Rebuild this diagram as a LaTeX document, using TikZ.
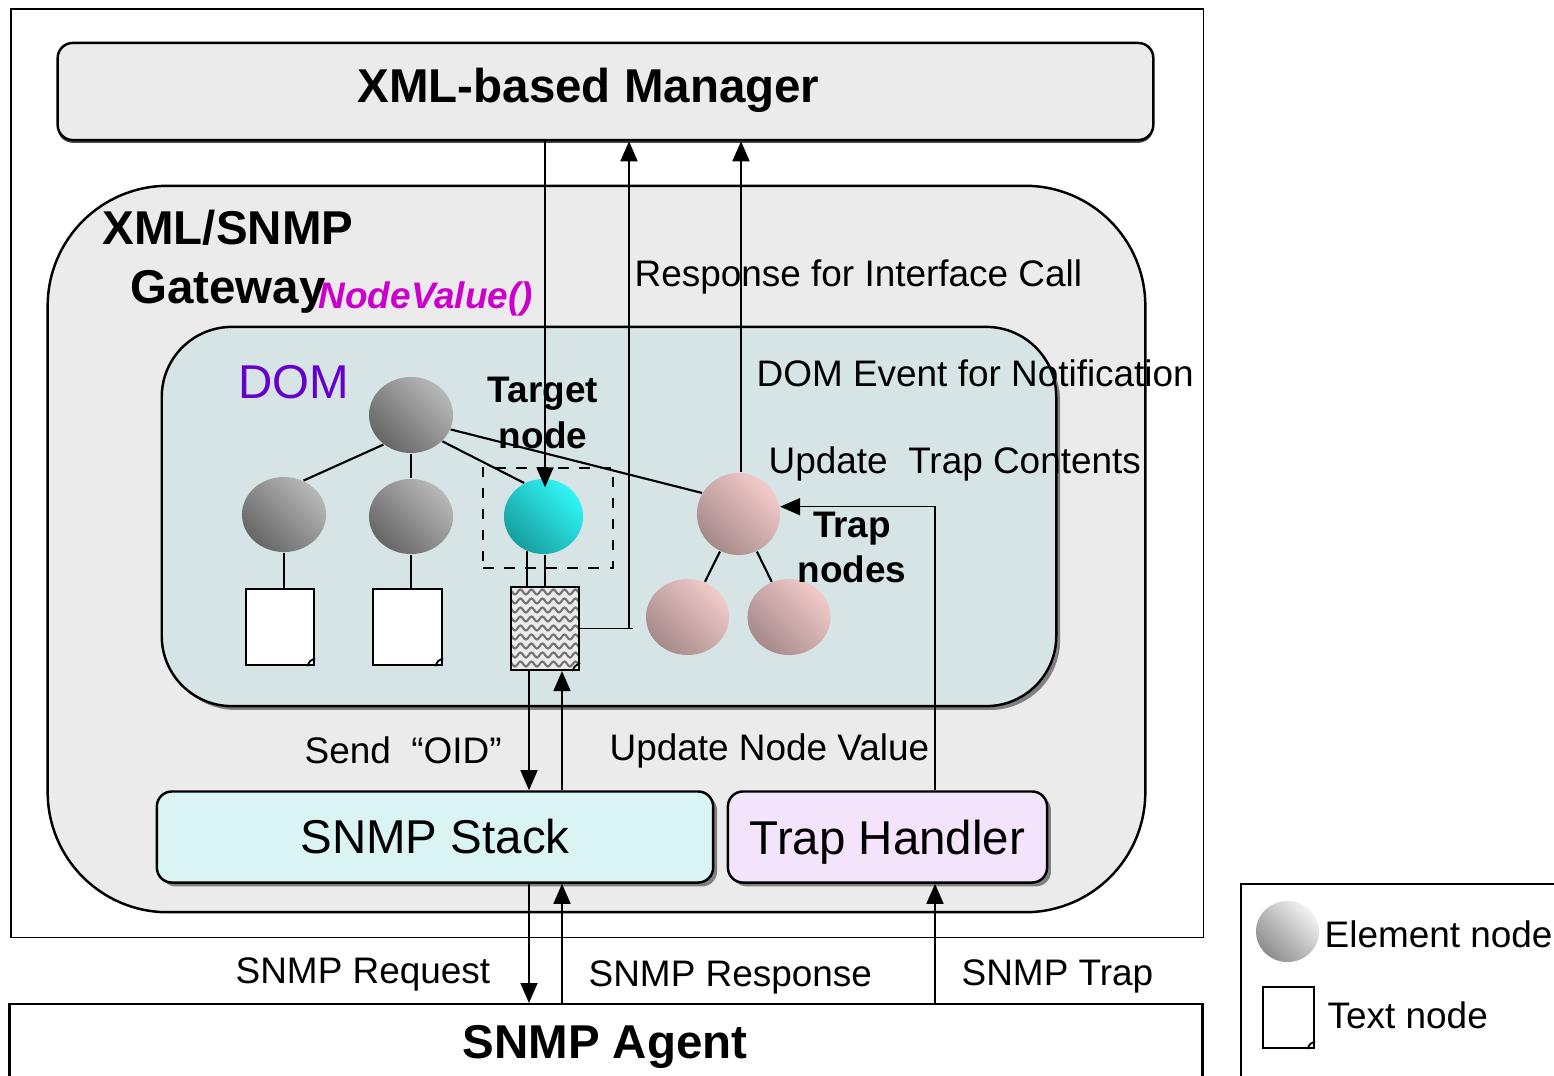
\documentclass[tikz,border=0pt]{standalone}
\usepackage{fontspec}
\setmainfont{Liberation Sans}
\usetikzlibrary{arrows.meta,calc,shapes.geometric,shapes.misc,shadows,decorations.pathmorphing}
\definecolor{panelgray}{RGB}{235,235,235}
\definecolor{domfill}{RGB}{214,228,229}
\definecolor{stackfill}{RGB}{218,244,244}
\definecolor{trapfill}{RGB}{243,228,252}
\definecolor{dompurple}{RGB}{102,0,204}
\definecolor{callmagenta}{RGB}{204,0,204}
\definecolor{cyanlight}{RGB}{48,246,246}
\definecolor{cyandark}{RGB}{24,158,158}
\definecolor{pinklight}{RGB}{243,202,202}
\definecolor{pinkdark}{RGB}{165,138,138}
\newcommand{\bigtext}{\fontsize{13.5pt}{16.5pt}\selectfont}
\newcommand{\smalltext}{\fontsize{10.5pt}{12.8pt}\selectfont}

\begin{document}
\begin{tikzpicture}[x=0.01cm, y=-0.01cm, >={Triangle[length=0.2cm,width=0.17cm]},
    box/.style={rectangle,draw,line width=0.7pt,rounded corners=0.15cm,inner sep=0pt},
    shadowed/.style={drop shadow={shadow xshift=1.1pt,shadow yshift=-1.1pt,fill=black!50,opacity=1}},
    elem/.style 2 args={ellipse,inner sep=0pt,top color=#1,bottom color=#2,shading angle=-45},
    textnode/.style={chamfered rectangle,chamfered rectangle corners=south east,chamfered rectangle sep=0.08cm,draw,line width=0.6pt,fill=white,inner sep=0pt},
    lbl/.style={inner sep=0pt,anchor=base west,font=\smalltext},
    link/.style={line width=0.6pt},
    flow/.style={line width=0.45pt}]
    \useasboundingbox (0,0) rectangle (1554,1075);

    % Frames and boxes
    \node[draw,line width=0.5pt,anchor=north west,minimum width=11.92cm,minimum height=9.28cm,inner sep=0pt] (frame) at (10,8) {};
    \node[box,fill=panelgray,minimum width=10.95cm,minimum height=0.97cm,drop shadow={shadow xshift=0pt,shadow yshift=-0.8pt,fill=black!70,opacity=1}] (manager) at (605.5,91.5) {};
    \node[anchor=base,inner sep=0pt,font=\bigtext\bfseries] (managertitle) at (588.5,102) {XML-based Manager};
    \node[box,rounded corners=1.2cm,fill=panelgray,minimum width=10.97cm,minimum height=7.26cm] (gateway) at (596.5,549) {};
    \node[anchor=base,align=center,inner sep=0pt,font=\bigtext\bfseries] (gwtitle) at (228,303) {XML/SNMP\\Gateway};
    \node[box,rounded corners=0.7cm,fill=domfill,shadowed,minimum width=8.94cm,minimum height=3.79cm] (dom) at (609,516.5) {};
    \node[lbl,font=\bigtext,text=dompurple] (domtitle) at (238,398) {DOM};
    \node[box,fill=stackfill,shadowed,minimum width=5.56cm,minimum height=0.91cm,font=\bigtext] (stack) at (435,837) {SNMP Stack};
    \node[box,fill=trapfill,shadowed,minimum width=3.19cm,minimum height=0.91cm,font=\bigtext,text depth=0pt] (traphandler) at (887.5,837) {Trap Handler};
    \node[draw,line width=0.7pt,anchor=north,minimum width=11.92cm,minimum height=1.2cm,inner sep=0pt,fill=white] (agent) at (606,1003) {};
    \node[anchor=base,inner sep=0pt,font=\bigtext\bfseries] (agenttitle) at (605,1058) {SNMP Agent};

    % DOM tree
    \node[draw,dashed,line width=0.6pt,minimum width=1.3cm,minimum height=1.0cm,inner sep=0pt] (targetbox) at (548,518) {};
    \node[elem={black!28}{black!60},minimum width=0.84cm,minimum height=0.76cm] (root) at (411,415) {};
    \node[elem={black!28}{black!60},minimum width=0.84cm,minimum height=0.75cm] (c1) at (284,514.5) {};
    \node[elem={black!28}{black!60},minimum width=0.84cm,minimum height=0.75cm] (c2) at (411,516.5) {};
    \node[elem={cyanlight}{cyandark},minimum width=0.79cm,minimum height=0.75cm] (cyan) at (543.5,516.5) {};
    \node[elem={pinklight}{pinkdark},minimum width=0.83cm,minimum height=0.82cm] (trap1) at (738.5,514) {};
    \node[elem={pinklight}{pinkdark},minimum width=0.83cm,minimum height=0.76cm] (trap2) at (687.5,617) {};
    \node[elem={pinklight}{pinkdark},minimum width=0.83cm,minimum height=0.76cm] (trap3) at (789,617) {};
    \node[textnode,minimum width=0.68cm,minimum height=0.76cm] (t1) at (280,627) {};
    \node[textnode,minimum width=0.69cm,minimum height=0.76cm] (t2) at (407.5,627) {};
    \node[textnode,fill=black!8,minimum width=0.68cm,minimum height=0.83cm,
        path picture={\foreach \k in {0,...,8}
            \draw[black!55,line width=0.6pt,decorate,decoration={snake,amplitude=0.025cm,segment length=0.11cm}]
            ($(path picture bounding box.north west)+(-0.05cm,{-0.05cm-0.09cm*\k})$) -- ++(0.9cm,0);}] (t3) at (545,628.5) {};
    \foreach \t in {t1,t2,t3}
        \draw[line width=0.5pt] ($(\t.south -| \t.east)+(-8,0)$) -- ($(\t.south -| \t.east)+(-5,-5)$) -- ($(\t.south -| \t.east)+(0,-8)$);

    \draw[link] (root.227) -- (c1.60);
    \draw[link] (root.south) -- (c2.north);
    \draw[link] (root.-40) -- (cyan.120);
    \draw[link] (root.-20) -- (trap1.150);
    \draw[link] (trap1) -- (trap2);
    \draw[link] (trap1) -- (trap3);
    \draw[link] (c1.south) -- (c1.south |- t1.north);
    \draw[link] (c2.south) -- (c2.south |- t2.north);
    \draw[link] (cyan.245) -- (cyan.245 |- t3.north);
    \draw[link] (cyan.272) -- (cyan.272 |- t3.north);

    % Labels
    \node[lbl,font=\smalltext\bfseries\itshape,text=callmagenta] (callname) at (318,308) {NodeValue()};
    \node[anchor=base,align=center,inner sep=0pt,font=\smalltext\bfseries] (targetlbl) at (543,448) {Target\\node};
    \node[anchor=base,align=center,inner sep=0pt,font=\smalltext\bfseries] (traplbl) at (852,582) {Trap\\nodes};
    \node[lbl] (resplbl) at (634,286) {Response for Interface Call};
    \node[lbl] (eventlbl) at (756,386) {DOM Event for Notification};
    \node[lbl] (updtraplbl) at (768,473) {Update\ \ Trap Contents};
    \node[lbl] (oidlbl) at (304,763) {Send\ \ “OID”};
    \node[lbl] (updnodelbl) at (609,760) {Update Node Value};
    \node[lbl] (reqlbl) at (235,983) {SNMP Request};
    \node[lbl] (rsplbl) at (588,986) {SNMP Response};
    \node[lbl] (traplbl2) at (961,985) {SNMP Trap};

    % Flow arrows
    \coordinate (getx) at (545,0);
    \coordinate (respx) at (629,0);
    \coordinate (notifx) at (741,0);
    \coordinate (reqx) at (529,0);
    \coordinate (rspx) at (562,0);
    \coordinate (trx) at (935,0);
    \draw[flow,->,shorten >=-0.09cm] (manager.south -| getx) -- (cyan.north -| getx);
    \draw[flow] (t3.east) -- ($(t3.east -| respx)+(4,0)$);
    \draw[flow,->] (t3.east -| respx) -- (manager.south -| respx);
    \draw[flow,->] (trap1.north -| notifx) -- (manager.south -| notifx);
    \draw[flow,->] (traphandler.north -| trx) |- (trap1.10);
    \draw[flow,->] (t3.south -| reqx) -- (stack.north -| reqx);
    \draw[flow,->] (stack.north -| rspx) -- (t3.south -| rspx);
    \draw[flow,->] (stack.south -| reqx) -- (agent.north -| reqx);
    \draw[flow,->] (agent.north -| rspx) -- (stack.south -| rspx);
    \draw[flow,->] (agent.north -| trx) -- (traphandler.south -| trx);

    % Legend
    \node[draw,line width=0.6pt,anchor=north west,minimum width=3.4cm,minimum height=2.2cm,inner sep=0pt] (legend) at (1240,883) {};
    \node[elem={black!5}{black!45},minimum width=0.63cm,minimum height=0.61cm] (lelem) at (1287.5,931.5) {};
    \node[textnode,minimum width=0.51cm,minimum height=0.61cm] (lt) at (1288.5,1017.5) {};
    \draw[line width=0.5pt] ($(lt.south -| lt.east)+(-8,0)$) -- ($(lt.south -| lt.east)+(-5,-5)$) -- ($(lt.south -| lt.east)+(0,-8)$);
    \node[lbl] (lelemlbl) at (1324,947) {Element node};
    \node[lbl] (ltlbl) at (1327,1028) {Text node};
\end{tikzpicture}
\end{document}
